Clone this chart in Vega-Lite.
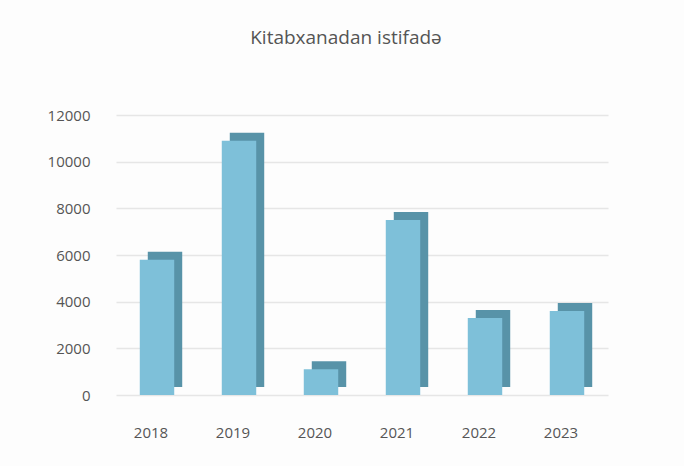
{
  "$schema": "https://vega.github.io/schema/vega-lite/v6.json",
  "width": 500,
  "height": 280,
  "autosize": {"type": "none"},
  "padding": {"left": 116, "top": 115, "right": 68, "bottom": 71},
  "background": "#fdfdfd",
  "title": {
    "text": "Kitabxanadan istifadə",
    "fontSize": 19,
    "font": "Open Sans",
    "fontWeight": "normal",
    "color": "#555555",
    "anchor": "middle",
    "offset": 60,
    "dx": -20
  },
  "data": {
    "values": [
      {"year": "2018", "value": 5800},
      {"year": "2019", "value": 10900},
      {"year": "2020", "value": 1100},
      {"year": "2021", "value": 7500},
      {"year": "2022", "value": 3300},
      {"year": "2023", "value": 3600}
    ]
  },
  "encoding": {
    "x": {
      "field": "year",
      "type": "ordinal",
      "title": null,
      "scale": {"range": [0, 492], "paddingInner": 0.58, "paddingOuter": 0.29},
      "axis": {
        "labelAngle": 0,
        "labelFontSize": 15,
        "labelFont": "Open Sans",
        "labelColor": "#555555",
        "labelPadding": 30,
        "labelOffset": -6,
        "domain": false,
        "ticks": false
      }
    },
    "y": {
      "field": "value",
      "type": "quantitative",
      "title": null,
      "scale": {"domain": [0, 12000]},
      "axis": {
        "values": [0, 2000, 4000, 6000, 8000, 10000, 12000],
        "format": "d",
        "labelFontSize": 15,
        "labelFont": "Open Sans",
        "labelColor": "#555555",
        "labelPadding": 26,
        "domain": false,
        "ticks": false,
        "grid": true,
        "gridColor": "#e6e6e6",
        "gridWidth": 1.5
      }
    }
  },
  "layer": [
    {
      "mark": {"type": "bar", "color": "#5893a8", "xOffset": 8, "yOffset": -8, "y2Offset": -8}
    },
    {
      "mark": {"type": "bar", "color": "#7ec0d9"}
    }
  ],
  "config": {"view": {"stroke": null}}
}
